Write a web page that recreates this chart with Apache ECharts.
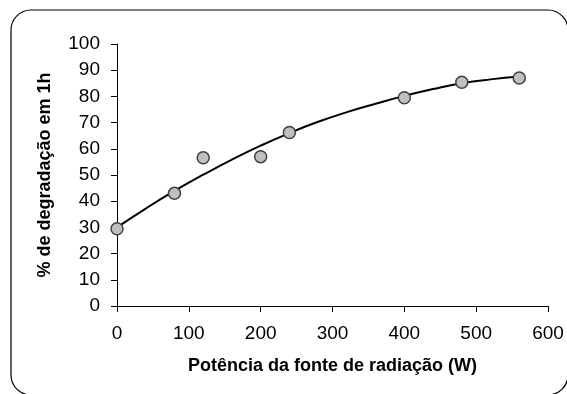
<!DOCTYPE html>
<html>
<head>
<meta charset="utf-8">
<script src="https://cdn.jsdelivr.net/npm/echarts@6/dist/echarts.min.js"></script>
<style>
  html, body { margin: 0; padding: 0; background: #fff; }
  #chart { width: 567px; height: 394px; }
</style>
</head>
<body>
<div id="chart"></div>
<script>
// potência (W) e % de degradação medida
const potencia = [0, 80, 120, 200, 240, 400, 480, 560];
const degradacao = [29.5, 43, 56.6, 57, 66.2, 79.5, 85.4, 87];

// linha de tendência
const tendenciaX = [0, 40, 80, 120, 160, 200, 240, 280, 320, 360, 400, 440, 480, 520, 560];
const tendenciaY = [30, 37.2, 43.9, 50.1, 55.9, 61.2, 66, 70.3, 74, 77.2, 80.2, 82.8, 85, 86.5, 87.6];

const xTicks = [0, 100, 200, 300, 400, 500, 600];
const yTicks = [0, 10, 20, 30, 40, 50, 60, 70, 80, 90, 100];

var chart = echarts.init(document.getElementById('chart'));

var pontos = potencia.map((p, i) => [p, degradacao[i]]);
var tendencia = tendenciaX.map((p, i) => [p, tendenciaY[i]]);

var labelFont = { fontFamily: 'Liberation Sans, Arial, sans-serif', fontSize: 19, color: '#000' };
var nameFont = { fontFamily: 'Liberation Sans, Arial, sans-serif', fontSize: 18, fontWeight: 'bold', color: '#000' };

chart.setOption({
    animation: false,
    backgroundColor: '#fff',
    graphic: [{
        type: 'rect',
        shape: { x: 11, y: 10, width: 557, height: 385, r: 20 },
        style: { fill: 'none', stroke: '#000', lineWidth: 1.2 },
        silent: true
    }],
    grid: { left: 117, right: 19, top: 44, bottom: 88 },
    xAxis: {
        type: 'value',
        min: xTicks[0],
        max: xTicks[xTicks.length - 1],
        interval: 100,
        name: 'Potência da fonte de radiação (W)',
        nameLocation: 'middle',
        nameGap: 51,
        nameTextStyle: nameFont,
        axisLine: { show: true, lineStyle: { color: '#000', width: 1 } },
        axisTick: { show: true, length: 6, lineStyle: { color: '#000' } },
        axisLabel: Object.assign({ margin: 18 }, labelFont),
        splitLine: { show: false }
    },
    yAxis: {
        type: 'value',
        min: yTicks[0],
        max: yTicks[yTicks.length - 1],
        interval: 10,
        name: '% de degradação em 1h',
        nameLocation: 'middle',
        nameGap: 63,
        nameRotate: 90,
        nameTextStyle: nameFont,
        axisLine: { show: true, lineStyle: { color: '#000', width: 1 } },
        axisTick: { show: true, length: 6, lineStyle: { color: '#000' } },
        axisLabel: Object.assign({ margin: 17 }, labelFont),
        splitLine: { show: false }
    },
    series: [
        {
            type: 'line',
            data: tendencia,
            smooth: true,
            symbol: 'none',
            lineStyle: { color: '#000', width: 2 },
            z: 2
        },
        {
            type: 'scatter',
            data: pontos,
            symbol: 'circle',
            symbolSize: 12,
            itemStyle: { color: '#c0c0c0', borderColor: '#404040', borderWidth: 1.5, opacity: 1 },
            z: 3
        }
    ]
});
</script>
</body>
</html>
